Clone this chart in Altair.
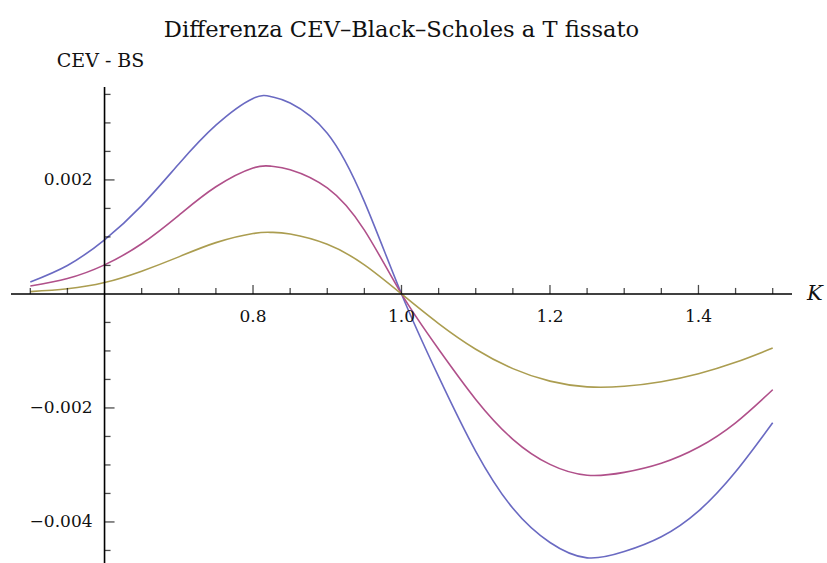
import altair as alt
import pandas as pd

# Strike grid and the CEV minus Black-Scholes price differences for three settings
strike = [0.50, 0.55, 0.60, 0.65, 0.70, 0.75, 0.80, 0.825, 0.85, 0.90, 0.95,
          1.00, 1.05, 1.10, 1.15, 1.20, 1.25, 1.30, 1.35, 1.40, 1.45, 1.50]
diff_large = [0.00021, 0.00050, 0.00095, 0.00155, 0.00228, 0.00296, 0.00343, 0.00346, 0.00335,
              0.00282, 0.00162, 0.0, -0.00145, -0.00276, -0.00376, -0.00436, -0.00463,
              -0.00452, -0.00426, -0.00381, -0.00312, -0.00226]
diff_mid = [0.00014, 0.00027, 0.00051, 0.00088, 0.00138, 0.00188, 0.00221, 0.00224, 0.00218,
            0.00186, 0.00112, 0.0, -0.00097, -0.00185, -0.00255, -0.00299, -0.00318,
            -0.00313, -0.00297, -0.00269, -0.00226, -0.00168]
diff_small = [0.00004, 0.00009, 0.00020, 0.00040, 0.00065, 0.00090, 0.00106, 0.00108, 0.00105,
              0.00087, 0.00051, 0.0, -0.00052, -0.00097, -0.00131, -0.00153, -0.00163,
              -0.00162, -0.00154, -0.00140, -0.00120, -0.00095]
series_names = ["a", "b", "c"]
series_colors = ["#6a6ac2", "#b0508a", "#ab9d50"]

# Axis decorations
x_major = [0.8, 1.0, 1.2, 1.4]
x_labels = ["0.8", "1.0", "1.2", "1.4"]
x_minor = [0.5, 0.55, 0.65, 0.7, 0.75, 0.85, 0.9, 0.95, 1.05, 1.1, 1.15,
           1.25, 1.3, 1.35, 1.45, 1.5]
y_major = [0.002, -0.002, -0.004]
y_labels = ["0.002", "\u22120.002", "\u22120.004"]
y_minor = [0.0035, 0.003, 0.0025, 0.0015, 0.001, 0.0005, -0.0005, -0.001,
           -0.0015, -0.0025, -0.003, -0.0035, -0.0045]
axis_cross_x = 0.6

rows = []
for name, vals in zip(series_names, [diff_large, diff_mid, diff_small]):
    for k, v in zip(strike, vals):
        rows.append({"K": k, "diff": v, "serie": name})
curves = pd.DataFrame(rows)

W, H = 781, 476
xs = alt.Scale(domain=[0.474, 1.526], nice=False, zero=False)
ys = alt.Scale(domain=[-0.00472, 0.00363], nice=False, zero=False)
FONT = "DejaVu Serif"

lines = alt.Chart(curves).mark_line(strokeWidth=1.6, interpolate="natural").encode(
    x=alt.X("K:Q", scale=xs, axis=None),
    y=alt.Y("diff:Q", scale=ys, axis=None),
    color=alt.Color("serie:N", scale=alt.Scale(domain=series_names, range=series_colors), legend=None),
    detail="serie:N",
)

one = pd.DataFrame({"z": [0]})
x_axis = alt.Chart(one).mark_rule(color="black", strokeWidth=1.6).encode(
    x=alt.value(0), x2=alt.value(W), y=alt.datum(0))
y_axis = alt.Chart(one).mark_rule(color="black", strokeWidth=1.6).encode(
    x=alt.datum(axis_cross_x), y=alt.value(0), y2=alt.value(H))

xmaj = pd.DataFrame({"K": x_major, "lab": x_labels})
xmin = pd.DataFrame({"K": x_minor})
ymaj = pd.DataFrame({"v": y_major, "lab": y_labels})
ymin = pd.DataFrame({"v": y_minor})

x_major_ticks = alt.Chart(xmaj).mark_tick(orient="vertical", size=9, thickness=1.3,
                                          yOffset=-4.5, color="black").encode(
    x="K:Q", y=alt.datum(0))
x_minor_ticks = alt.Chart(xmin).mark_tick(orient="vertical", size=6, thickness=1.3,
                                          yOffset=-3, color="black").encode(
    x="K:Q", y=alt.datum(0))
y_major_ticks = alt.Chart(ymaj).mark_tick(orient="horizontal", size=10, thickness=1.3,
                                          xOffset=5, color="black").encode(
    x=alt.datum(axis_cross_x), y="v:Q")
y_minor_ticks = alt.Chart(ymin).mark_tick(orient="horizontal", size=6, thickness=1.3,
                                          xOffset=3, color="black").encode(
    x=alt.datum(axis_cross_x), y="v:Q")

x_tick_labels = alt.Chart(xmaj).mark_text(font=FONT, fontSize=17, dy=23, baseline="middle",
                                          color="#111").encode(
    x="K:Q", y=alt.datum(0), text="lab:N")
y_tick_labels = alt.Chart(ymaj).mark_text(font=FONT, fontSize=17, dx=-12, align="right",
                                          baseline="middle", color="#111").encode(
    x=alt.datum(axis_cross_x), y="v:Q", text="lab:N")

title = alt.Chart(one).mark_text(font=FONT, fontSize=22.6, baseline="alphabetic", align="center",
                                 color="#111").encode(
    x=alt.value(W / 2), y=alt.value(-50),
    text=alt.value("Differenza CEV\u2013Black\u2013Scholes a T fissato"))
y_title = alt.Chart(one).mark_text(font=FONT, fontSize=19, baseline="middle", align="center",
                                   dx=-4, color="#111").encode(
    x=alt.datum(axis_cross_x), y=alt.value(-26), text=alt.value("CEV - BS"))
x_title = alt.Chart(one).mark_text(font=FONT, fontSize=21, fontStyle="italic", baseline="middle",
                                   align="left", color="#111").encode(
    x=alt.value(W + 15), y=alt.datum(0), text=alt.value("K"))

chart = alt.layer(
    lines, x_axis, y_axis, x_major_ticks, x_minor_ticks, y_major_ticks, y_minor_ticks,
    x_tick_labels, y_tick_labels, title, y_title, x_title,
).properties(
    width=W, height=H, autosize="none", background="white",
    padding={"left": 11, "top": 87, "right": 35, "bottom": 0},
).configure_view(stroke="transparent", strokeWidth=0)

chart.save("out.html", embed_options={"renderer": "svg", "actions": False})
